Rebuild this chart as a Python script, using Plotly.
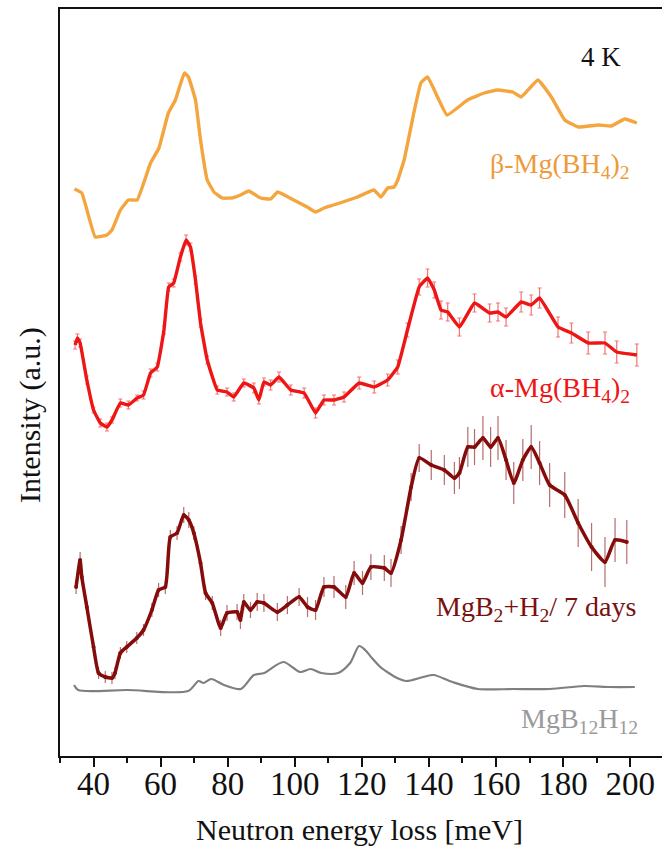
import plotly.graph_objects as go

# Neutron energy loss [meV] and intensities (a.u., stacked with offsets as in the figure)
beta_x = [34.3, 36.5, 40.5, 44, 45.5, 48, 50.4, 53, 57, 59.5, 62.3, 64.4, 67.1, 68.3, 70.4,
          71.9, 73.9, 75.9, 78.3, 81.3, 83.8, 86.3, 89.8, 92.8, 94.9, 99.7, 103.7, 106.2, 108.7,
          111.6, 118.7, 123.6, 125.7, 127.7, 129.6, 130.7, 132.6, 135.5, 137.6, 139.6, 145.4,
          151.5, 156.5, 160.5, 165, 167.5, 172.5, 176.5, 180.5, 184.5, 190.5, 194.4, 198.4, 202]
beta_y = [567, 563, 519, 521, 526, 546, 556, 556, 593, 608, 643, 656, 683, 679, 656,
          616, 576, 564, 558, 558, 561, 565, 558, 557, 564, 556, 549, 544, 548,
          551, 559, 566, 559, 568, 569, 576, 596, 643, 673, 679, 641,
          656, 663, 666, 664, 659, 676, 659, 636, 629, 631, 630, 637, 633]

alpha_x = [34.5, 35.2, 36, 38, 40, 42, 44, 45.5, 48, 50.4, 53, 54.9, 57, 59, 61, 62.4, 63.9,
           65.9, 67.6, 68.9, 70.4, 71.9, 73.9, 76.9, 79.8, 81.8, 84.8, 87.8, 89.3, 90.8, 92.8,
           95.3, 98.8, 102.8, 106.2, 108.7, 111.7, 114.7, 119.2, 123.7, 127.7, 130.7, 133.6,
           137.1, 139.6, 141.6, 143.6, 145.6, 149.1, 153.6, 158.1, 160.6, 163, 167.5, 170.5,
           173, 178.5, 182.5, 187.5, 192.5, 196, 202]
alpha_y = [411, 418, 413, 376, 346, 333, 329, 336, 353, 351, 358, 361, 383, 389, 426, 469, 473,
           499, 516, 509, 476, 433, 396, 366, 364, 359, 373, 368, 356, 374, 371,
           379, 366, 363, 343, 356, 356, 359, 373, 369, 376, 389, 426,
           469, 478, 466, 446, 444, 429, 453, 443, 444, 439, 454, 451,
           458, 429, 423, 413, 413, 404, 401]
alpha_err = [4, 4, 4, 4, 3, 4, 4, 3, 4, 4, 3, 4, 4, 4, 4, 4, 4,
             4, 5, 4, 4, 4, 4, 4, 4, 4, 4, 5, 4, 4, 5,
             5, 5, 5, 5, 5, 5, 5, 6, 6, 6, 7, 7,
             8, 9, 8, 9, 9, 9, 9, 9, 9, 9, 10, 10,
             10, 10, 10, 11, 11, 11, 11]

mgb2_x = [34.8, 36, 36.5, 38, 40, 41.5, 43.5, 45.5, 46.4, 48, 49.9, 52.9, 54.9, 57.4, 59.4,
          61.4, 62.9, 64.9, 66.9, 68.4, 69.9, 71.9, 73.4, 75.4, 77.9, 79.8, 82.8, 83.8, 84.8,
          86.8, 88.8, 90.8, 94.8, 97.8, 101.3, 103.8, 106.2, 108.7, 111.7, 115.2, 117.7, 120.2,
          122.7, 126.7, 128.7, 131.7, 134.7, 137.1, 140.7, 144.6, 147.6, 149.1, 151.6, 153.6,
          156.1, 158.4, 160.6, 163, 165.3, 168, 170.5, 173, 176, 180.5, 184.5, 188.5, 192.5,
          195.5, 199]
mgb2_y = [169, 196, 179, 149, 109, 83, 79, 78, 83, 103, 109, 118, 126, 146, 166,
          169, 219, 223, 241, 236, 223, 193, 163, 153, 128, 143, 144, 136, 154,
          146, 154, 153, 144, 151, 159, 149, 146, 169, 169, 159, 183, 173,
          189, 188, 183, 216, 269, 298, 291, 286, 278, 283, 309, 309,
          318, 309, 318, 296, 273, 296, 309, 293, 271, 261, 233, 209, 194,
          216, 214]
mgb2_err = [7, 8, 7, 6, 6, 6, 6, 6, 6, 6, 6, 6, 6, 7, 7,
            7, 7, 7, 8, 8, 7, 7, 7, 7, 8, 8, 8, 9, 8,
            8, 9, 9, 9, 9, 9, 10, 10, 10, 11, 12, 12, 12,
            13, 13, 14, 14, 14, 14, 15, 15, 16, 16, 20, 18,
            22, 20, 22, 20, 21, 21, 22, 22, 22, 23, 24, 24, 25,
            22, 22]

b12_x = [34.2, 35.4, 50, 68.2, 71.3, 72.8, 75.1, 78.9, 83.9, 87.8, 90.9, 96.6, 101.6, 104.7,
         107.9, 112.9, 116.5, 119.2, 121, 123, 125.5, 128, 130.5, 133.2, 138.3, 141.4, 147,
         154.6, 165, 176.1, 186.2, 194, 201.4]
b12_y = [71, 66, 66, 65, 75, 73, 77, 71, 67, 81, 83, 94, 84, 87,
         83, 83, 93, 110, 106, 98, 89, 83, 78, 75, 79, 81, 74,
         67, 67, 67, 70, 69, 69]

x_ticks = [40, 60, 80, 100, 120, 140, 160, 180, 200]

FONT = "Liberation Serif"
ORANGE = "#F4A53E"
RED = "#EE1515"
DARK = "#860C0C"
GRAY = "#7F7F7F"

fig = go.Figure()

fig.add_trace(go.Scatter(x=b12_x, y=b12_y, mode="lines",
                         line=dict(color=GRAY, width=2.2, shape="spline", smoothing=0.8)))
fig.add_trace(go.Scatter(x=mgb2_x, y=mgb2_y, mode="lines+markers",
                         line=dict(color=DARK, width=3.5, shape="spline", smoothing=0.5),
                         marker=dict(color=DARK, size=4),
                         error_y=dict(type="data", array=mgb2_err, visible=True,
                                      color="rgba(134,12,12,0.6)", thickness=1.2, width=0)))
fig.add_trace(go.Scatter(x=alpha_x, y=alpha_y, mode="lines",
                         line=dict(color=RED, width=3.4, shape="spline", smoothing=0.3),
                         error_y=dict(type="data", array=alpha_err, visible=True,
                                      color="rgba(238,21,21,0.6)", thickness=1.2, width=2)))
fig.add_trace(go.Scatter(x=beta_x, y=beta_y, mode="lines",
                         line=dict(color=ORANGE, width=3.4, shape="spline", smoothing=0.3)))

def lab(text, x, y, color, size=28, xanchor="right"):
    fig.add_annotation(text=text, xref="paper", yref="paper", x=x, y=y,
                       xanchor=xanchor, yanchor="middle", showarrow=False,
                       font=dict(family=FONT, size=size, color=color))

lab("4 K", 0.935, 0.936, "#111111", size=27)
lab("β-Mg(BH<sub>4</sub>)<sub>2</sub>", 0.95, 0.790, "#EE9A3A")
lab("α-Mg(BH<sub>4</sub>)<sub>2</sub>", 0.95, 0.491, RED)
lab("MgB<sub>2</sub>+H<sub>2</sub>/ 7 days", 0.96, 0.198, "#7A1010")
lab("MgB<sub>12</sub>H<sub>12</sub>", 0.963, 0.048, "#9A9A9A")

fig.add_annotation(text="Intensity (a.u.)", xref="paper", yref="paper",
                   x=-0.0498, y=0.4565, xanchor="center", yanchor="middle",
                   textangle=-90, showarrow=False,
                   font=dict(family=FONT, size=30, color="#111111"))
fig.add_annotation(text="Neutron energy loss [meV]", xref="paper", yref="paper",
                   x=0.497, y=-0.099, xanchor="center", yanchor="middle",
                   showarrow=False, font=dict(family=FONT, size=30, color="#111111"))

fig.update_layout(
    width=662, height=849,
    margin=dict(l=60, r=0, t=9, b=93),
    paper_bgcolor="white", plot_bgcolor="white",
    showlegend=False,
    xaxis=dict(range=[30, 209.5], tickvals=x_ticks, ticktext=[str(v) for v in x_ticks],
               ticks="outside", ticklen=9, tickwidth=2, tickcolor="#111111",
               ticklabelstandoff=-12,
               showline=True, linewidth=2, linecolor="#111111", mirror=True,
               showgrid=False, zeroline=False,
               minor=dict(dtick=10, tick0=30, ticks="outside", ticklen=5, tickwidth=2,
                          tickcolor="#111111", showgrid=False),
               tickfont=dict(family=FONT, size=33, color="#111111")),
    yaxis=dict(range=[0, 747], showticklabels=False, ticks="", showgrid=False,
               zeroline=False, showline=True, linewidth=2, linecolor="#111111"),
)

fig.write_html("out.html")
